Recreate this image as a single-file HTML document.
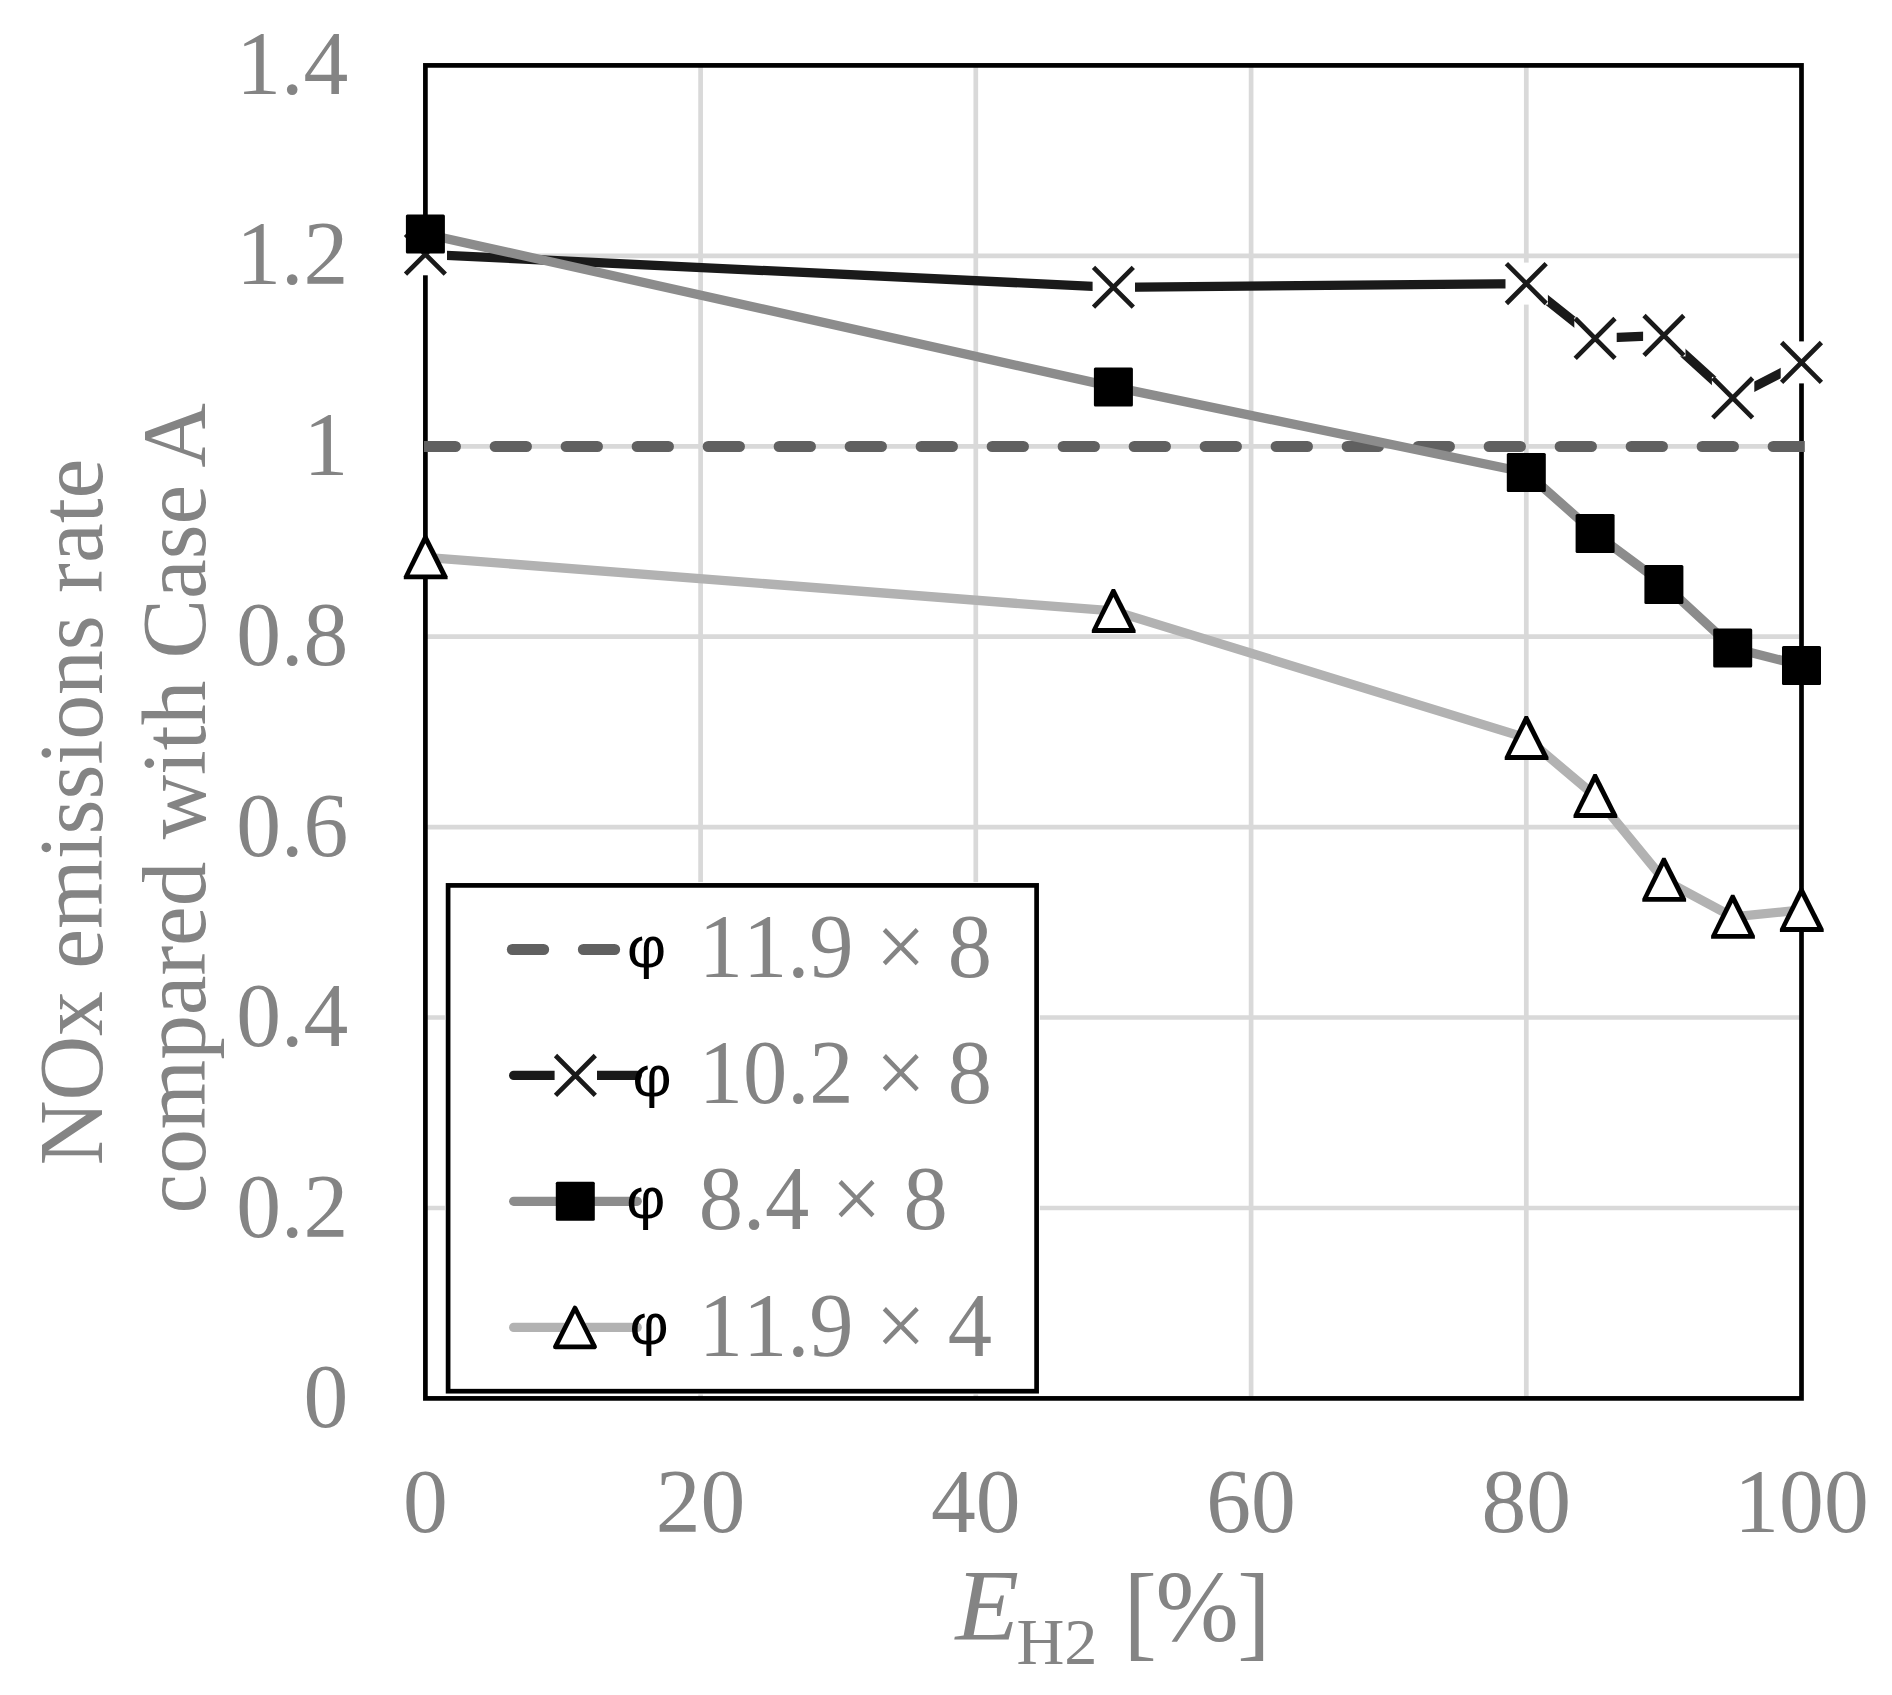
<!DOCTYPE html>
<html lang="en"><head><meta charset="utf-8"><title>NOx emissions rate compared with Case A</title>
<style>
html,body{margin:0;padding:0;background:#fff;}
body{width:1892px;height:1695px;overflow:hidden;}
svg{display:block;}
text{font-family:"Liberation Serif","DejaVu Serif",serif;fill:#848484;font-kerning:none;}
.t{font-size:89.6px;}
.phi{font-family:"Liberation Sans","DejaVu Sans",sans-serif;fill:#000;font-size:58px;}
</style></head><body>
<svg width="1892" height="1695" viewBox="0 0 1892 1695">
<defs>
<clipPath id="cp"><rect x="424" y="0" width="1380.8" height="1695"/></clipPath>
<g id="mx"><rect x="-20.8" y="-21" width="42.4" height="42" fill="#fff"/><path d="M-19.9 -19.9L19.9 19.9M-19.9 19.9L19.9 -19.9" stroke="#1A1A1A" stroke-width="4.7" fill="none"/></g>
<rect id="ms" x="-19.5" y="-19.5" width="39" height="39" rx="1.5" fill="#000"/>
<g id="mt"><path d="M-1.6 -22.0L1.6 -22.0L22.2 19.0L22.2 22.0L-21.6 22.0L-21.6 19.0Z" fill="#000"/><path d="M0 -14.0L15.7 17.1L-15.7 17.1Z" fill="#fff"/></g>
<g id="mtr"><path d="M0 -19.4L19.6 19.5L-19.6 19.5Z" fill="#fff" stroke="#000" stroke-width="4.7" stroke-linejoin="round"/></g>
</defs>
<rect width="1892" height="1695" fill="#fff"/>
<path d="M425.4 1208.0H1801.5M425.4 1017.5H1801.5M425.4 827.1H1801.5M425.4 636.7H1801.5M425.4 446.3H1801.5M425.4 255.8H1801.5M700.6 65.4V1398.4M975.8 65.4V1398.4M1251.1 65.4V1398.4M1526.3 65.4V1398.4" stroke="#D9D9D9" stroke-width="4.7" fill="none"/>
<rect x="425.4" y="65.4" width="1376.1" height="1333.0" fill="none" stroke="#000" stroke-width="4.7"/>
<path d="M424.2 446.5H1812" stroke="#606060" stroke-width="11.1" stroke-linecap="round" stroke-dasharray="31.2 39.8" fill="none" clip-path="url(#cp)"/>
<path d="M425.4 254.3L1113.4 287.3L1526.3 283.6L1595.1 338.4L1663.9 335.4L1732.7 397.9L1801.5 362.4" stroke="#1A1A1A" stroke-width="9.3" fill="none" stroke-linejoin="round"/>
<use href="#mx" x="425.4" y="254.3"/>
<use href="#mx" x="1113.4" y="287.3"/>
<use href="#mx" x="1526.3" y="283.6"/>
<use href="#mx" x="1595.1" y="338.4"/>
<use href="#mx" x="1663.9" y="335.4"/>
<use href="#mx" x="1732.7" y="397.9"/>
<use href="#mx" x="1801.5" y="362.4"/>
<path d="M425.4 234.0L1113.4 386.9L1526.3 472.5L1595.1 533.4L1663.9 584.4L1732.7 647.9L1801.5 665.4" stroke="#8C8C8C" stroke-width="9.3" fill="none" stroke-linejoin="round"/>
<use href="#ms" x="425.4" y="234.0"/>
<use href="#ms" x="1113.4" y="386.9"/>
<use href="#ms" x="1526.3" y="472.5"/>
<use href="#ms" x="1595.1" y="533.4"/>
<use href="#ms" x="1663.9" y="584.4"/>
<use href="#ms" x="1732.7" y="647.9"/>
<use href="#ms" x="1801.5" y="665.4"/>
<path d="M425.4 557.3L1113.4 610.9L1526.3 737.9L1595.1 795.9L1663.9 879.8L1732.7 916.8L1801.5 910.0" stroke="#B2B2B2" stroke-width="9.3" fill="none" stroke-linejoin="round"/>
<use href="#mt" x="425.4" y="557.3"/>
<use href="#mt" x="1113.4" y="610.9"/>
<use href="#mt" x="1526.3" y="737.9"/>
<use href="#mt" x="1595.1" y="795.9"/>
<use href="#mt" x="1663.9" y="879.8"/>
<use href="#mt" x="1732.7" y="916.8"/>
<use href="#mt" x="1801.5" y="910.0"/>
<rect x="448.1" y="885.4" width="588.5" height="505.8" fill="#fff" stroke="#fff" stroke-width="6.5"/>
<rect x="448.1" y="885.4" width="588.5" height="505.8" fill="#fff" stroke="#000" stroke-width="4.7"/>
<path d="M512.4 949.5H636" stroke="#606060" stroke-width="11.1" stroke-linecap="round" stroke-dasharray="31.2 39.8" fill="none"/>
<path d="M513.7 1075.4H637.2" stroke="#1A1A1A" stroke-width="9.3" stroke-linecap="round" fill="none"/>
<use href="#mx" x="575.4" y="1075.4"/>
<path d="M513.7 1201.3H637.2" stroke="#8C8C8C" stroke-width="9.3" stroke-linecap="round" fill="none"/>
<use href="#ms" x="575.3" y="1201.3"/>
<path d="M513.7 1327.4H637.2" stroke="#B2B2B2" stroke-width="9.3" stroke-linecap="round" fill="none"/>
<use href="#mtr" x="575.0" y="1327.4"/>
<text class="phi" transform="translate(627.1 966.7) scale(1.040 1)">φ</text>
<text class="t" transform="translate(698.7 977.2) scale(0.988 1.016)">11.9 × 8</text>
<text class="phi" transform="translate(632.5 1095.9) scale(1.040 1)">φ</text>
<text class="t" transform="translate(698.7 1103.3) scale(0.988 1.016)">10.2 × 8</text>
<text class="phi" transform="translate(626.2 1217.7) scale(1.040 1)">φ</text>
<text class="t" transform="translate(698.7 1229.4) scale(0.988 1.016)">8.4 × 8</text>
<text class="phi" transform="translate(629.4 1344.0) scale(1.040 1)">φ</text>
<text class="t" transform="translate(698.7 1355.5) scale(0.988 1.016)">11.9 × 4</text>
<text class="t" transform="translate(348.2 93.9) scale(1.000 1.016)" text-anchor="end">1.4</text>
<text class="t" transform="translate(348.2 284.3) scale(1.000 1.016)" text-anchor="end">1.2</text>
<text class="t" transform="translate(348.2 474.8) scale(1.000 1.016)" text-anchor="end">1</text>
<text class="t" transform="translate(348.2 665.2) scale(1.000 1.016)" text-anchor="end">0.8</text>
<text class="t" transform="translate(348.2 855.6) scale(1.000 1.016)" text-anchor="end">0.6</text>
<text class="t" transform="translate(348.2 1046.0) scale(1.000 1.016)" text-anchor="end">0.4</text>
<text class="t" transform="translate(348.2 1236.5) scale(1.000 1.016)" text-anchor="end">0.2</text>
<text class="t" transform="translate(348.2 1426.9) scale(1.000 1.016)" text-anchor="end">0</text>
<text class="t" transform="translate(425.4 1532.1) scale(1.000 1.016)" text-anchor="middle">0</text>
<text class="t" transform="translate(700.6 1532.1) scale(1.000 1.016)" text-anchor="middle">20</text>
<text class="t" transform="translate(975.8 1532.1) scale(1.000 1.016)" text-anchor="middle">40</text>
<text class="t" transform="translate(1251.1 1532.1) scale(1.000 1.016)" text-anchor="middle">60</text>
<text class="t" transform="translate(1526.3 1532.1) scale(1.000 1.016)" text-anchor="middle">80</text>
<text class="t" transform="translate(1801.5 1532.1) scale(1.000 1.016)" text-anchor="middle">100</text>
<text class="t" transform="translate(955.6 1640.0) scale(1.040 1.010)" style="font-size:100px;font-style:italic">E</text>
<text class="t" transform="translate(1016.5 1664.3) scale(1.020 1.010)" style="font-size:65px">H2</text>
<text class="t" transform="translate(1123.5 1646.8) scale(1.000 1.063)" style="font-size:100px">[</text>
<text class="t" transform="translate(1155.6 1640.5) scale(1.000 1.012)" style="font-size:100px">%</text>
<text class="t" transform="translate(1237.3 1646.8) scale(1.000 1.063)" style="font-size:100px">]</text>
<text class="t" transform="translate(101.8 812.0) rotate(-90) scale(1.000 1.016)" text-anchor="middle">NOx emissions rate</text>
<text class="t" transform="translate(205.0 808.3) rotate(-90) scale(0.996 1.016)" text-anchor="middle" style="font-kerning:normal">compared with Case A</text>
</svg></body></html>
